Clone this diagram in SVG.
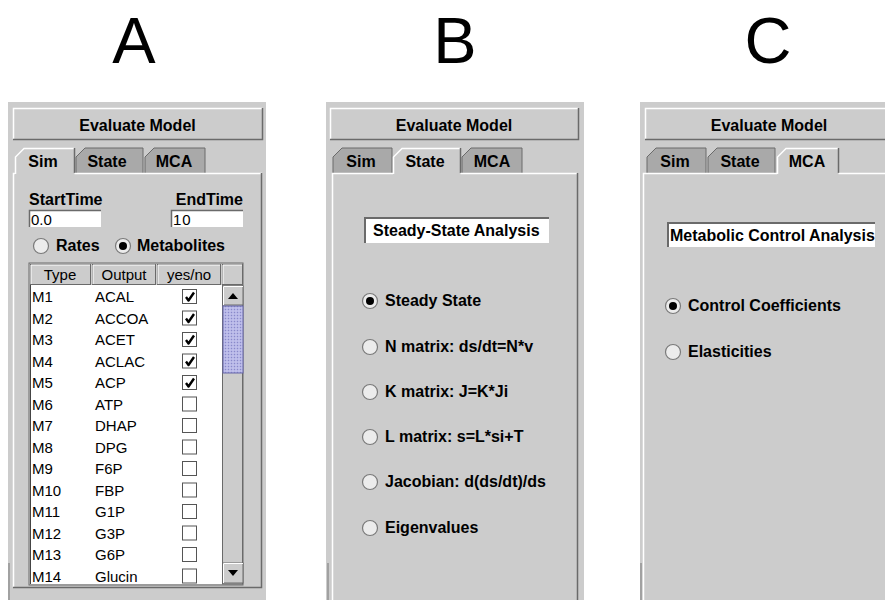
<svg xmlns="http://www.w3.org/2000/svg" width="885" height="600" viewBox="0 0 885 600">
<defs>
<pattern id="dots" width="3" height="3" patternUnits="userSpaceOnUse">
<rect width="3" height="3" fill="#b4b4e6"/>
<rect x="0" y="0" width="1" height="1" fill="#8a8ac8"/>
<rect x="1.5" y="1.5" width="1" height="1" fill="#e0e0f8"/>
</pattern>
</defs>
<style>
.title{font-family:"Liberation Sans",Arial,sans-serif;font-size:65px;fill:#000}
.b{font-family:"Liberation Sans",Arial,sans-serif;font-size:16px;font-weight:bold;fill:#000}
.r{font-family:"Liberation Sans",Arial,sans-serif;font-size:15px;fill:#000}
.panel{fill:#cccccc}
.btn{fill:#cccccc;stroke:none}
.hl{stroke:#ffffff;stroke-width:1.5;fill:none}
.sh{stroke:#6a6a6a;stroke-width:1.5;fill:none}
.tabU{fill:#a9a9a9;stroke:#6a6a6a;stroke-width:1}
.tabS{fill:#cccccc;stroke:none}
.field{fill:#ffffff}
.radio{fill:#ececec;stroke:#7a7a7a;stroke-width:1.2}
.dot{fill:#000}
.cb{fill:#ffffff;stroke:#555;stroke-width:1}
.chk{fill:none;stroke:#000;stroke-width:2.4;stroke-linejoin:round}
.hdr{fill:#cccccc;stroke:#6a6a6a;stroke-width:1}
</style>
<rect width="885" height="600" fill="#ffffff"/>

<g id="titles">
<text class="title" x="134" y="63" text-anchor="middle">A</text>
<text class="title" x="455" y="63" text-anchor="middle">B</text>
<text class="title" x="768" y="63" text-anchor="middle">C</text>
</g>

<!-- Panel A -->
<g id="panelA">
<rect class="panel" x="8" y="102" width="258" height="498"/>
<line x1="9" y1="563" x2="9" y2="600" stroke="#777" stroke-width="1"/>
<g id="A-button">
<rect class="btn" x="13" y="108" width="249" height="32"/>
<path class="hl" d="M13.5,139 V108.5 H262"/>
<path class="sh" d="M13,139.5 H262.5 V108"/>
<text class="b" x="137.5" y="131" text-anchor="middle">Evaluate Model</text>
</g>
<g id="A-tabs">
<path class="tabU" d="M76,173 V157 L85,148 H143 V173"/>
<path class="tabU" d="M145,173 V157 L154,148 H205 V173"/>
<path class="tabS" d="M15,174 V157 L24,148 H74 V174 Z"/>
<path class="hl" d="M15.5,174 V157 L24,148.5 H74"/>
<path class="sh" d="M74.5,148 V173"/>
<text class="b" x="43" y="167" text-anchor="middle">Sim</text>
<text class="b" x="107" y="167" text-anchor="middle">State</text>
<text class="b" x="174" y="167" text-anchor="middle">MCA</text>
</g>
<g id="A-content">
<path class="hl" d="M13.5,587 V173.5 H15 M74.5,173.5 H262"/>
<path class="sh" d="M261.5,173 V587.5 H13"/>
<text class="b" x="29" y="205">StartTime</text>
<text class="b" x="243" y="205" text-anchor="end">EndTime</text>
<rect class="field" x="29" y="210" width="72" height="17"/>
<path class="sh" d="M29.5,227 V210.5 H101"/>
<text class="r" x="31" y="225">0.0</text>
<rect class="field" x="171" y="210" width="72" height="17"/>
<path class="sh" d="M171.5,227 V210.5 H243"/>
<text class="r" x="173" y="225" letter-spacing="1">10</text>
<circle class="radio" cx="41" cy="246" r="7.5"/>
<text class="b" x="56" y="251">Rates</text>
<circle class="radio" cx="123" cy="246" r="7.5"/>
<circle class="dot" cx="123" cy="246" r="4"/>
<text class="b" x="137" y="251">Metabolites</text>
</g>
<g id="A-table">
<rect x="29" y="263" width="214" height="322" fill="none" stroke="#6a6a6a" stroke-width="1"/>
<rect class="hdr" x="30.5" y="264.5" width="60" height="20"/>
<rect class="hdr" x="92.5" y="264.5" width="63" height="20"/>
<rect class="hdr" x="157.5" y="264.5" width="63" height="20"/>
<rect class="hdr" x="222.5" y="264.5" width="20" height="20"/>
<path d="M31,284 V265 H90 M93,284 V265 H155 M158,284 V265 H220 M223,284 V265 H242" stroke="#fff" stroke-width="1" fill="none"/>
<text class="r" x="60" y="280" text-anchor="middle">Type</text>
<text class="r" x="124" y="280" text-anchor="middle">Output</text>
<text class="r" x="189" y="280" text-anchor="middle">yes/no</text>
<rect x="30" y="285" width="192" height="299" fill="#ffffff"/>
<line x1="30.5" y1="285" x2="30.5" y2="584" stroke="#444" stroke-width="1"/>
<g id="A-rows" class="r">
<text x="32" y="302">M1</text><text x="95" y="302">ACAL</text>
<text x="32" y="323.5">M2</text><text x="95" y="323.5">ACCOA</text>
<text x="32" y="345">M3</text><text x="95" y="345">ACET</text>
<text x="32" y="366.5">M4</text><text x="95" y="366.5">ACLAC</text>
<text x="32" y="388">M5</text><text x="95" y="388">ACP</text>
<text x="32" y="409.5">M6</text><text x="95" y="409.5">ATP</text>
<text x="32" y="431">M7</text><text x="95" y="431">DHAP</text>
<text x="32" y="452.5">M8</text><text x="95" y="452.5">DPG</text>
<text x="32" y="474">M9</text><text x="95" y="474">F6P</text>
<text x="32" y="495.5">M10</text><text x="95" y="495.5">FBP</text>
<text x="32" y="517">M11</text><text x="95" y="517">G1P</text>
<text x="32" y="538.5">M12</text><text x="95" y="538.5">G3P</text>
<text x="32" y="560">M13</text><text x="95" y="560">G6P</text>
<text x="32" y="581.5">M14</text><text x="95" y="581.5">Glucin</text>
</g>
<g id="A-checks">
<rect class="cb" x="182.5" y="289.5" width="14" height="14"/>
<rect class="cb" x="182.5" y="311" width="14" height="14"/>
<rect class="cb" x="182.5" y="332.5" width="14" height="14"/>
<rect class="cb" x="182.5" y="354" width="14" height="14"/>
<rect class="cb" x="182.5" y="375.5" width="14" height="14"/>
<rect class="cb" x="182.5" y="397" width="14" height="14"/>
<rect class="cb" x="182.5" y="418.5" width="14" height="14"/>
<rect class="cb" x="182.5" y="440" width="14" height="14"/>
<rect class="cb" x="182.5" y="461.5" width="14" height="14"/>
<rect class="cb" x="182.5" y="483" width="14" height="14"/>
<rect class="cb" x="182.5" y="504.5" width="14" height="14"/>
<rect class="cb" x="182.5" y="526" width="14" height="14"/>
<rect class="cb" x="182.5" y="547.5" width="14" height="14"/>
<rect class="cb" x="182.5" y="569" width="14" height="14"/>
<path class="chk" d="M186,297 L188.5,300.5 L194,292.5"/>
<path class="chk" d="M186,318.5 L188.5,322 L194,314"/>
<path class="chk" d="M186,340 L188.5,343.5 L194,335.5"/>
<path class="chk" d="M186,361.5 L188.5,365 L194,357"/>
<path class="chk" d="M186,383 L188.5,386.5 L194,378.5"/>
</g>
<g id="A-scroll">
<rect x="222.5" y="285" width="20" height="299" fill="#cccccc" stroke="#6a6a6a" stroke-width="1"/>
<rect x="223" y="286" width="20" height="19" fill="#cccccc" stroke="#6a6a6a" stroke-width="1"/>
<path d="M223.5,305 V286.5 H243" stroke="#fff" stroke-width="1" fill="none"/>
<polygon points="228,299 238,299 233,293" fill="#000"/>
<rect x="223" y="306" width="20" height="67" fill="url(#dots)" stroke="#6666aa" stroke-width="1"/>
<rect x="223" y="563" width="20" height="20" fill="#cccccc" stroke="#6a6a6a" stroke-width="1"/>
<path d="M223.5,583 V563.5 H243" stroke="#fff" stroke-width="1" fill="none"/>
<polygon points="228,570 238,570 233,576" fill="#000"/>
</g>
</g>
</g>

<!-- Panel B -->
<g id="panelB">
<rect class="panel" x="326" y="102" width="258" height="498"/>
<line x1="328" y1="563" x2="328" y2="600" stroke="#777" stroke-width="1"/>
<g id="B-button">
<rect class="btn" x="330" y="108" width="248" height="32"/>
<path class="hl" d="M330.5,139 V108.5 H578"/>
<path class="sh" d="M330,139.5 H578.5 V108"/>
<text class="b" x="454" y="131" text-anchor="middle">Evaluate Model</text>
</g>
<g id="B-tabs">
<path class="tabU" d="M333,173 V157 L342,148 H392 V173"/>
<path class="tabU" d="M462,173 V157 L471,148 H522 V173"/>
<path class="tabS" d="M393,174 V157 L402,148 H460 V174 Z"/>
<path class="hl" d="M393.5,174 V157 L402,148.5 H460"/>
<path class="sh" d="M460.5,148 V173"/>
<text class="b" x="361" y="167" text-anchor="middle">Sim</text>
<text class="b" x="425" y="167" text-anchor="middle">State</text>
<text class="b" x="492" y="167" text-anchor="middle">MCA</text>
</g>
<g id="B-content">
<path class="hl" d="M332.5,600 V173.5 H393 M460.5,173.5 H577"/>
<path class="sh" d="M577.5,173 V600"/>
<rect x="364" y="217" width="185" height="26" fill="#fff"/>
<path d="M365,243 V218 H549" stroke="#6a6a6a" stroke-width="2" fill="none"/>
<text class="b" x="373" y="236">Steady-State Analysis</text>
<circle class="radio" cx="370" cy="301" r="7.5"/>
<circle class="dot" cx="370" cy="301" r="4"/>
<text class="b" x="385" y="306">Steady State</text>
<circle class="radio" cx="370" cy="347" r="7.5"/>
<text class="b" x="385" y="352">N matrix: ds/dt=N*v</text>
<circle class="radio" cx="370" cy="392" r="7.5"/>
<text class="b" x="385" y="397">K matrix: J=K*Ji</text>
<circle class="radio" cx="370" cy="437" r="7.5"/>
<text class="b" x="385" y="442">L matrix: s=L*si+T</text>
<circle class="radio" cx="370" cy="482" r="7.5"/>
<text class="b" x="385" y="487">Jacobian: d(ds/dt)/ds</text>
<circle class="radio" cx="370" cy="528" r="7.5"/>
<text class="b" x="385" y="533">Eigenvalues</text>
</g>
</g>

<!-- Panel C -->
<g id="panelC">
<rect class="panel" x="640" y="102" width="245" height="498"/>
<line x1="641" y1="563" x2="641" y2="600" stroke="#777" stroke-width="1"/>
<g id="C-button">
<rect class="btn" x="645" y="108" width="240" height="32"/>
<path class="hl" d="M645.5,139 V108.5 H885"/>
<path class="sh" d="M645,139.5 H885"/>
<text class="b" x="769" y="131" text-anchor="middle">Evaluate Model</text>
</g>
<g id="C-tabs">
<path class="tabU" d="M647,173 V157 L656,148 H706 V173"/>
<path class="tabU" d="M708,173 V157 L717,148 H775 V173"/>
<path class="tabS" d="M777,174 V157 L786,148 H838 V174 Z"/>
<path class="hl" d="M777.5,174 V157 L786,148.5 H838"/>
<path class="sh" d="M838.5,148 V173"/>
<text class="b" x="675" y="167" text-anchor="middle">Sim</text>
<text class="b" x="740" y="167" text-anchor="middle">State</text>
<text class="b" x="807" y="167" text-anchor="middle">MCA</text>
</g>
<g id="C-content">
<path class="hl" d="M643.5,600 V173.5 H777 M838.5,173.5 H885"/>
<rect x="667" y="222" width="208" height="25" fill="#fff"/>
<path d="M668,247 V223 H875" stroke="#6a6a6a" stroke-width="2" fill="none"/>
<text class="b" x="670" y="241">Metabolic Control Analysis</text>
<circle class="radio" cx="673" cy="306" r="7.5"/>
<circle class="dot" cx="673" cy="306" r="4"/>
<text class="b" x="688" y="311">Control Coefficients</text>
<circle class="radio" cx="673" cy="352" r="7.5"/>
<text class="b" x="688" y="357">Elasticities</text>
</g>
</g>

<g id="connectors"/>
</svg>
